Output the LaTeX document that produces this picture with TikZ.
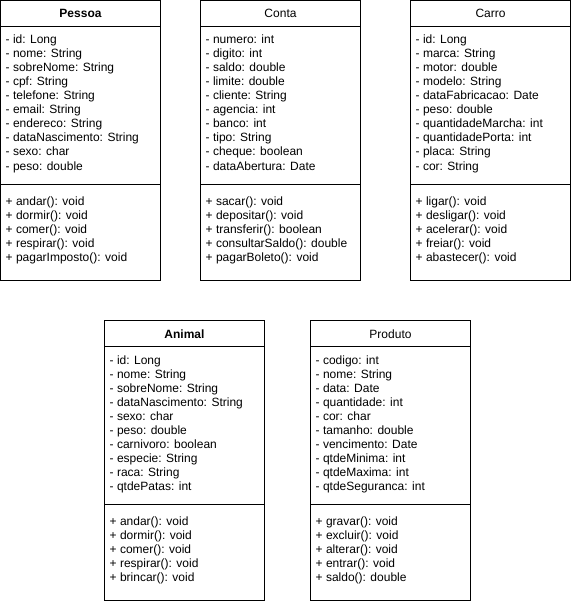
\documentclass[tikz,border=0pt]{standalone}
\usepackage{fontspec}
\setmainfont{Liberation Sans}
\usetikzlibrary{calc}
\tikzset{
  compart/.style={draw=black, line width=1pt, fill=white, minimum width=160pt, inner sep=0pt, outer sep=0pt, anchor=north west},
  titletext/.style={font=\fontsize{12}{14}\selectfont, inner sep=0pt, anchor=base},
  itemtext/.style={font=\fontsize{12}{14}\selectfont, inner sep=0pt, anchor=base west},
}
\newcommand\umlclass[6]{%
  \node[compart, minimum height=26pt] (#1-title) at (#2,-#3) {};
  \node[compart, minimum height=158pt] (#1-attr) at (#1-title.south west) {};
  \node[compart, minimum height=96pt] (#1-meth) at (#1-attr.south west) {};
  \node[titletext] (#1-name) at ($(#1-title.north)+(0,-17.5)$) {#4};
  \foreach \t [count=\i] in {#5} {
    \node[itemtext] (#1-a\i) at ($(#1-attr.north west)+(5,-17.5-14*\i+14)$) {\t};
  }
  \foreach \t [count=\i] in {#6} {
    \node[itemtext] (#1-m\i) at ($(#1-meth.north west)+(5,-21-14*\i+14)$) {\t};
  }
}
\begin{document}
\begin{tikzpicture}[x=1pt,y=1pt]
\path[use as bounding box, fill=white] (0,0) rectangle (571,-604);
\umlclass{pessoa}{0.5}{0.5}{\bfseries Pessoa}%
 {- id: Long, - nome: String, - sobreNome: String, - cpf: String, - telefone: String, - email: String, - endereco: String, - dataNascimento: String, - sexo: char, - peso: double}%
 {+ andar(): void, + dormir(): void, + comer(): void, + respirar(): void, + pagarImposto(): void}
\umlclass{conta}{200.5}{0.5}{Conta}%
 {- numero: int, - digito: int, - saldo: double, - limite: double, - cliente: String, - agencia: int, - banco: int, - tipo: String, - cheque: boolean, - dataAbertura: Date}%
 {+ sacar(): void, + depositar(): void, + transferir(): boolean, + consultarSaldo(): double, + pagarBoleto(): void}
\umlclass{carro}{410.5}{0.5}{Carro}%
 {- id: Long, - marca: String, - motor: double, - modelo: String, - dataFabricacao: Date, - peso: double, - quantidadeMarcha: int, - quantidadePorta: int, - placa: String, - cor: String}%
 {+ ligar(): void, + desligar(): void, + acelerar(): void, + freiar(): void, + abastecer(): void}
\umlclass{animal}{104.5}{320.5}{\bfseries Animal}%
 {- id: Long, - nome: String, - sobreNome: String, - dataNascimento: String, - sexo: char, - peso: double, - carnivoro: boolean, - especie: String, - raca: String, - qtdePatas: int}%
 {+ andar(): void, + dormir(): void, + comer(): void, + respirar(): void, + brincar(): void}
\umlclass{produto}{310.5}{320.5}{Produto}%
 {- codigo: int, - nome: String, - data: Date, - quantidade: int, - cor: char, - tamanho: double, - vencimento: Date, - qtdeMinima: int, - qtdeMaxima: int, - qtdeSeguranca: int}%
 {+ gravar(): void, + excluir(): void, + alterar(): void, + entrar(): void, + saldo(): double}
\end{tikzpicture}
\end{document}
